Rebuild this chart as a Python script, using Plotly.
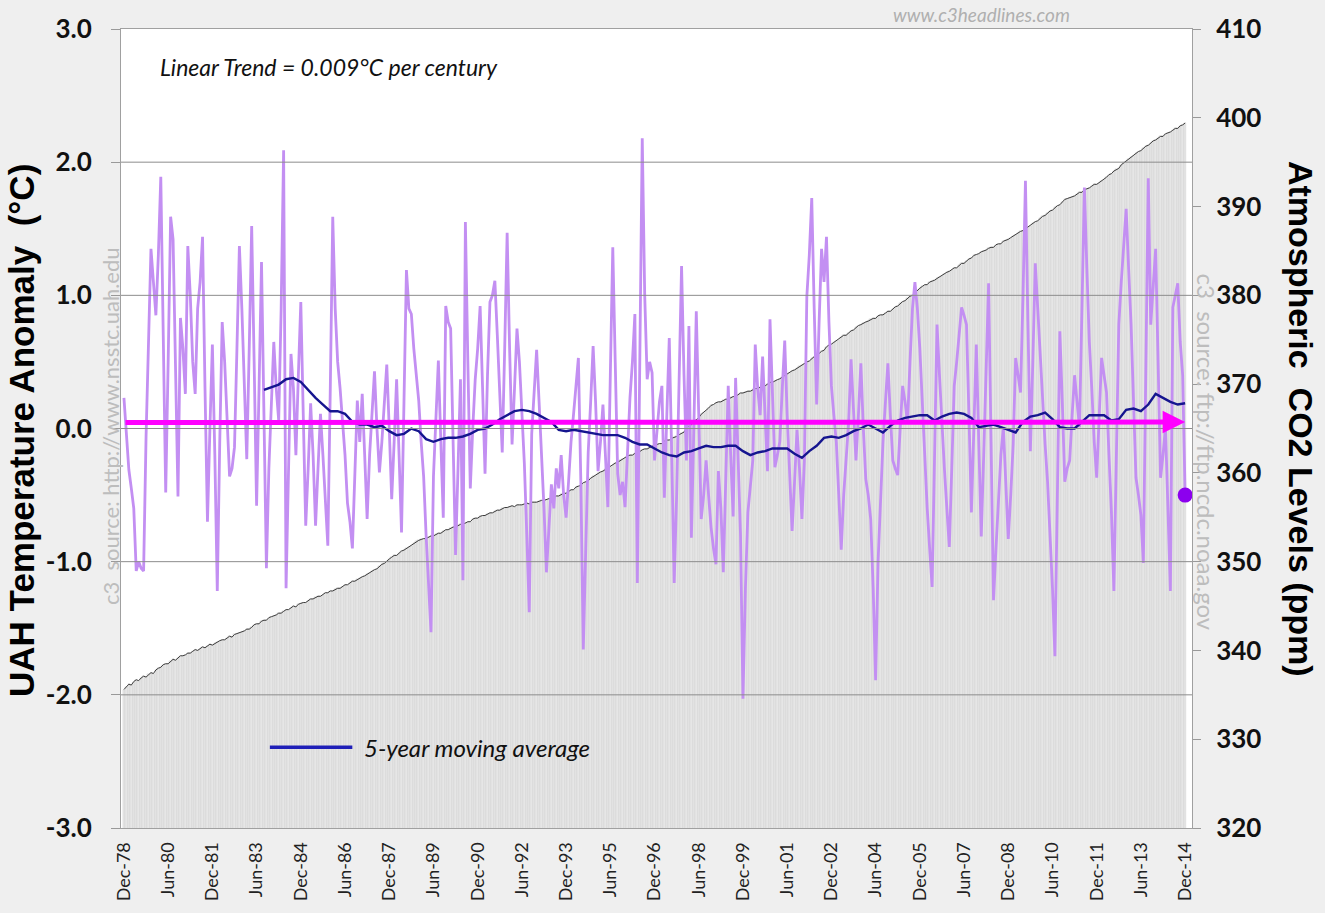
import pandas as pd
import plotly.graph_objects as go

# ---------------- data ----------------
month_labels = pd.date_range("1978-12-01", "2014-12-01", freq="MS").strftime("%b-%y").tolist()
month_idx = list(range(len(month_labels)))

# UAH temperature anomaly (deg C), monthly Dec-78 .. Dec-14
temp = [
    0.23, -0.05, -0.31, -0.45, -0.6, -1.07, -1.0, -1.05, -1.07, -0.06, 0.6, 1.35,
    1.1, 0.85, 1.3, 1.89, 0.7, -0.48, 0.5, 1.59, 1.42, 0.4, -0.51, 0.83,
    0.6, 0.26, 1.37, 1.0, 0.5, 0.26, 0.9, 1.1, 1.44, 0.3, -0.7, 0.0,
    0.63, -0.2, -1.22, -0.1, 0.8, 0.5, 0.1, -0.36, -0.3, -0.14, 0.6, 1.37,
    0.9, 0.3, -0.23, 0.6, 1.52, 0.5, -0.58, 0.3, 1.25, 0.1, -1.05, -0.3,
    0.2, 0.65, 0.3, 0.06, 0.9, 2.09, -1.2, -0.3, 0.56, 0.3, -0.2, 0.4,
    0.95, 0.1, -0.73, -0.3, 0.19, -0.2, -0.73, -0.3, 0.11, -0.2, -0.5, -0.88,
    0.3, 1.59, 0.9, 0.5, 0.3, 0.06, -0.2, -0.56, -0.7, -0.9, -0.3, 0.21,
    -0.1, 0.26, -0.2, -0.68, -0.2, 0.1, 0.43, 0.0, -0.33, -0.1, 0.2, 0.48,
    0.0, -0.53, -0.1, 0.37, -0.2, -0.78, 0.2, 1.19, 0.9, 0.86, 0.6, 0.4,
    0.21, -0.1, -0.36, -0.8, -1.2, -1.53, -0.36, 0.1, 0.51, -0.1, -0.67, 0.92,
    0.8, 0.75, -0.1, -0.95, -0.3, 0.37, -1.14, 1.55, 0.5, -0.45, 0.0, 0.37,
    0.6, 0.92, 0.3, -0.34, 0.4, 0.95, 1.0, 1.11, 0.7, 0.3, -0.18, 0.6,
    1.47, 0.6, -0.12, 0.3, 0.75, 0.5, 0.1, -0.26, -0.8, -1.38, -0.04, 0.3,
    0.59, 0.2, -0.18, -0.6, -1.08, -0.7, -0.42, -0.6, -0.3, -0.45, -0.2, -0.5,
    -0.67, -0.4, -0.1, 0.1, 0.3, 0.53, -0.4, -1.66, -0.9, -0.18, 0.2, 0.62,
    0.2, -0.32, -0.1, 0.18, -0.2, -0.59, 0.4, 1.36, 0.5, -0.34, -0.5, -0.4,
    -0.59, -0.2, 0.23, 0.5, 0.86, -1.16, 0.4, 2.18, 1.0, 0.37, 0.5, 0.42,
    -0.24, 0.0, 0.2, 0.32, -0.52, 0.1, 0.68, -0.2, -1.16, -0.5, 0.3, 1.22,
    0.4, -0.24, 0.77, -0.82, 0.0, 0.88, 0.1, -0.68, -0.5, -0.24, -0.5, -0.74,
    -0.9, -1.02, -0.32, -0.6, -1.08, -0.4, 0.32, -0.2, -0.66, 0.38, -0.3, -0.8,
    -2.03, -1.2, -0.63, -0.4, -0.24, 0.63, 0.3, 0.1, 0.54, 0.1, -0.32, 0.82,
    0.2, -0.29, -0.2, -0.1, 0.3, 0.66, 0.1, -0.38, -0.77, -0.4, -0.01, -0.3,
    -0.68, -0.24, 0.99, 1.3, 1.73, 0.9, 0.18, 0.8, 1.35, 1.1, 1.44, 0.8,
    0.32, 0.1, -0.1, -0.5, -0.91, -0.5, -0.2, 0.04, 0.52, 0.1, -0.24, 0.1,
    0.49, 0.0, -0.38, -0.5, -0.68, -1.2, -1.89, -1.0, -0.5, -0.1, 0.2, 0.49,
    0.1, -0.24, -0.3, -0.35, 0.0, 0.32, 0.2, 0.04, 0.5, 0.9, 1.1, 0.9,
    0.6, 0.2, -0.24, -0.6, -0.9, -1.19, -0.2, 0.78, 0.4, 0.01, -0.3, -0.6,
    -0.89, -0.3, 0.32, 0.5, 0.7, 0.91, 0.85, 0.78, 0.1, -0.63, 0.0, 0.63,
    -0.1, -0.81, -0.2, 0.5, 1.09, -0.1, -1.29, -0.9, -0.5, -0.2, 0.01, -0.4,
    -0.83, -0.5, -0.12, 0.53, 0.4, 0.27, 1.0, 1.86, 0.8, -0.17, 0.5, 1.24,
    0.9, 0.53, 0.2, -0.12, -0.4, -0.76, -1.2, -1.71, -0.5, 0.73, 0.2, -0.4,
    -0.3, -0.24, 0.1, 0.4, 0.2, 0.01, 0.9, 1.81, 1.2, 0.65, 0.3, -0.1,
    -0.37, 0.1, 0.53, 0.4, 0.27, -0.2, -0.63, -1.22, -0.2, 0.78, 1.1, 1.4,
    1.65, 1.2, 0.78, 0.2, -0.37, -0.5, -0.65, -1.01, 0.5, 1.88, 0.78, 1.1,
    1.35, 0.5, -0.37, -0.2, 0.01, -0.6, -1.22, 0.91, 1.0, 1.09, 0.65, 0.4,
    -0.5,
]

# Atmospheric CO2 (ppm), monthly Dec-78 .. Dec-14
co2 = [
    335.6,
    335.9, 336.2, 336.1, 336.5, 336.7, 336.6, 336.9, 337.1, 337.0, 337.3, 337.5, 337.4,
    337.8, 338.0, 338.1, 338.4, 338.5, 338.5, 338.8, 339.0, 338.9, 339.2, 339.4, 339.4,
    339.5, 339.7, 339.7, 339.9, 340.1, 340.0, 340.2, 340.4, 340.3, 340.5, 340.7, 340.6,
    340.8, 340.9, 341.1, 341.2, 341.2, 341.4, 341.6, 341.5, 341.8, 341.9, 342.0, 342.1,
    342.2, 342.4, 342.4, 342.6, 342.9, 343.0, 343.0, 343.3, 343.4, 343.4, 343.7, 343.8,
    343.9, 344.0, 344.2, 344.2, 344.4, 344.6, 344.6, 344.8, 345.0, 344.9, 345.2, 345.3,
    345.4, 345.4, 345.6, 345.8, 345.8, 346.0, 346.1, 346.1, 346.3, 346.5, 346.5, 346.7,
    346.7, 346.9, 347.0, 347.0, 347.2, 347.4, 347.4, 347.6, 347.8, 347.8, 348.0, 348.2,
    348.3, 348.4, 348.6, 348.7, 348.9, 349.1, 349.2, 349.5, 349.7, 349.8, 350.1, 350.3,
    350.5, 350.7, 350.7, 351.0, 351.2, 351.3, 351.5, 351.7, 351.8, 352.1, 352.3, 352.4,
    352.5, 352.6, 352.6, 352.8, 352.9, 352.9, 353.1, 353.2, 353.2, 353.4, 353.6, 353.6,
    353.8, 353.9, 353.9, 354.1, 354.2, 354.2, 354.4, 354.5, 354.5, 354.8, 354.9, 354.9,
    355.1, 355.2, 355.2, 355.4, 355.5, 355.5, 355.7, 355.8, 355.8, 356.0, 356.1, 356.1,
    356.2, 356.3, 356.2, 356.4, 356.4, 356.4, 356.5, 356.6, 356.5, 356.7, 356.7, 356.7,
    356.8, 356.9, 356.9, 357.0, 357.1, 357.1, 357.3, 357.4, 357.4, 357.6, 357.7, 357.7,
    357.9, 358.1, 358.1, 358.4, 358.5, 358.6, 358.9, 359.0, 359.1, 359.4, 359.6, 359.7,
    360.0, 360.1, 360.2, 360.4, 360.6, 360.7, 360.9, 361.1, 361.2, 361.4, 361.6, 361.7,
    361.9, 362.0, 362.0, 362.2, 362.3, 362.4, 362.6, 362.7, 362.7, 362.9, 363.0, 363.1,
    363.2, 363.3, 363.3, 363.6, 363.7, 363.7, 363.9, 364.0, 364.1, 364.3, 364.5, 364.6,
    365.0, 365.3, 365.4, 365.8, 366.0, 366.2, 366.6, 366.8, 367.0, 367.3, 367.6, 367.7,
    367.9, 368.0, 368.0, 368.2, 368.3, 368.3, 368.5, 368.6, 368.6, 368.8, 369.0, 369.0,
    369.1, 369.2, 369.2, 369.4, 369.5, 369.5, 369.7, 369.8, 369.8, 370.0, 370.2, 370.2,
    370.4, 370.5, 370.6, 370.8, 371.0, 371.1, 371.3, 371.5, 371.6, 371.8, 372.0, 372.1,
    372.3, 372.5, 372.6, 372.9, 373.1, 373.2, 373.5, 373.7, 373.8, 374.2, 374.4, 374.5,
    374.7, 374.9, 375.0, 375.3, 375.5, 375.5, 375.8, 376.0, 376.1, 376.4, 376.6, 376.7,
    376.9, 377.0, 377.1, 377.3, 377.4, 377.4, 377.7, 377.8, 377.8, 378.0, 378.2, 378.2,
    378.5, 378.7, 378.8, 379.1, 379.3, 379.4, 379.7, 379.9, 380.0, 380.3, 380.6, 380.8,
    381.0, 381.2, 381.2, 381.5, 381.6, 381.7, 381.9, 382.1, 382.2, 382.4, 382.6, 382.7,
    382.9, 383.1, 383.1, 383.4, 383.6, 383.6, 383.9, 384.1, 384.2, 384.5, 384.6, 384.7,
    384.9, 385.0, 385.1, 385.3, 385.4, 385.4, 385.7, 385.8, 385.8, 386.1, 386.2, 386.3,
    386.5, 386.7, 386.8, 387.0, 387.2, 387.3, 387.5, 387.7, 387.8, 388.1, 388.3, 388.4,
    388.7, 388.9, 389.0, 389.3, 389.5, 389.6, 389.9, 390.1, 390.2, 390.5, 390.8, 390.9,
    391.0, 391.1, 391.2, 391.4, 391.6, 391.6, 391.9, 392.0, 392.1, 392.3, 392.5, 392.5,
    392.7, 392.9, 393.0, 393.3, 393.6, 393.7, 394.0, 394.2, 394.3, 394.7, 394.9, 395.1,
    395.4, 395.6, 395.7, 396.0, 396.2, 396.3, 396.6, 396.8, 396.9, 397.2, 397.4, 397.5,
    397.7, 397.9, 397.9, 398.2, 398.3, 398.4, 398.6, 398.8, 398.8, 399.1, 399.2, 399.4,
]

# 5-year moving average (deg C), read every 3rd month starting Sep-83
ma_first_month = "Sep-83"
ma_every = 3
ma_values = [
    0.29, 0.31, 0.33, 0.37, 0.38, 0.35, 0.29, 0.23, 0.18, 0.13,
    0.13, 0.11, 0.05, 0.03, 0.03, 0.01, 0.02, -0.02, -0.05, -0.04,
    0.0, -0.02, -0.08, -0.1, -0.08, -0.07, -0.07, -0.06, -0.04, -0.01,
    0.0, 0.03, 0.07, 0.1, 0.13, 0.14, 0.13, 0.11, 0.08, 0.05,
    -0.01, -0.02, -0.01, -0.02, -0.03, -0.04, -0.05, -0.05, -0.05, -0.07,
    -0.1, -0.12, -0.12, -0.15, -0.18, -0.2, -0.21, -0.18, -0.17, -0.15,
    -0.13, -0.14, -0.14, -0.13, -0.13, -0.17, -0.2, -0.18, -0.17, -0.15,
    -0.15, -0.15, -0.19, -0.22, -0.17, -0.13, -0.07, -0.06, -0.07, -0.05,
    -0.02, 0.0, 0.03, 0.0, -0.03, 0.02, 0.06, 0.08, 0.09, 0.1,
    0.1, 0.06, 0.09, 0.11, 0.12, 0.11, 0.08, 0.01, 0.02, 0.03,
    0.01, -0.01, -0.03, 0.05, 0.09, 0.1, 0.12, 0.07, 0.01, 0.0,
    0.0, 0.05, 0.1, 0.1, 0.1, 0.06, 0.07, 0.14, 0.15, 0.13,
    0.18, 0.26, 0.23, 0.2, 0.18, 0.19,
]

trend_values = [0.045, 0.048]          # linear trend at first and last month
temp_ticks = [-3, -2, -1, 0, 1, 2, 3]
temp_tick_labels = ["-3.0", "-2.0", "-1.0", "0.0", "1.0", "2.0", "3.0"]
co2_ticks = [320, 330, 340, 350, 360, 370, 380, 390, 400, 410]
x_label_every = 18

# ---------------- derived ----------------
n = min(len(month_idx), len(temp), len(co2))
ma_start = month_labels.index(ma_first_month)
ma_x = month_idx[ma_start::ma_every][:len(ma_values)]
tick_x = month_idx[::x_label_every]
tick_text = month_labels[::x_label_every]

LABEL_FONT = "Lato, 'Open Sans', sans-serif"
TITLE_FONT = "'Liberation Sans', Arial, sans-serif"

fig = go.Figure()

fig.add_trace(go.Bar(
    x=month_idx[:len(co2)], y=co2, yaxis="y",
    marker=dict(color="#e6e6e6", line=dict(color="#c4c4c4", width=0.3)),
    hoverinfo="skip", showlegend=False,
))
fig.add_trace(go.Scatter(
    x=month_idx[:len(co2)], y=co2, yaxis="y", mode="lines",
    line=dict(color="#3c3c3c", width=1), showlegend=False,
))
fig.add_trace(go.Scatter(
    x=month_idx[:len(temp)], y=temp, yaxis="y2", mode="lines",
    line=dict(color="#c38ff2", width=2.8), showlegend=False,
))
fig.add_trace(go.Scatter(
    x=ma_x, y=ma_values, yaxis="y2", mode="lines",
    line=dict(color="#15158f", width=2.4), showlegend=False,
))
fig.add_trace(go.Scatter(
    x=[month_idx[len(temp) - 1]], y=[temp[-1]], yaxis="y2", mode="markers",
    marker=dict(color="#8c00ee", size=15), showlegend=False,
))

shapes = []
for v in temp_ticks[1:-1]:
    shapes.append(dict(type="line", xref="paper", x0=0, x1=1, yref="y2", y0=v, y1=v,
                       line=dict(color="#8c8c8c", width=1), layer="above"))
# legend key for moving average
shapes.append(dict(type="line", xref="paper", yref="paper", x0=0.139, x1=0.216, y0=0.101, y1=0.101,
                   line=dict(color="#1f1fb8", width=3.5)))

annotations = [
    # linear trend arrow
    dict(x=month_idx[n - 1], y=trend_values[1], xref="x", yref="y2",
         ax=month_idx[0], ay=trend_values[0], axref="x", ayref="y2",
         showarrow=True, arrowhead=2, arrowsize=0.9, arrowwidth=5, arrowcolor="#ff00ff", text=""),
    dict(text="<i>Linear Trend = 0.009°C per century</i>", xref="paper", yref="paper",
         x=0.0345, y=0.952, xanchor="left", yanchor="middle", showarrow=False,
         font=dict(family=LABEL_FONT, size=23, color="#111")),
    dict(text="<i>5-year moving average</i>", xref="paper", yref="paper",
         x=0.225, y=0.101, xanchor="left", yanchor="middle", showarrow=False,
         font=dict(family=LABEL_FONT, size=24, color="#111")),
    dict(text="<i>www.c3headlines.com</i>", xref="paper", yref="paper",
         x=0.803, y=1.018, xanchor="center", yanchor="middle", showarrow=False,
         font=dict(family=LABEL_FONT, size=19, color="#b0b0b0")),
    dict(text="c3&nbsp; source: http://www.nsstc.uah.edu", xref="paper", yref="paper",
         x=-0.0103, y=0.503, xanchor="center", yanchor="middle", textangle=-90, showarrow=False,
         font=dict(family=LABEL_FONT, size=22, color="#bdbdbd")),
    dict(text="c3&nbsp; source: ftp://ftp.ncdc.noaa.gov", xref="paper", yref="paper",
         x=1.014, y=0.47, xanchor="center", yanchor="middle", textangle=90, showarrow=False,
         font=dict(family=LABEL_FONT, size=24, color="#bdbdbd")),
    dict(text="<b>UAH Temperature Anomaly&nbsp; (°C)</b>", xref="paper", yref="paper",
         x=-0.0924, y=0.497, xanchor="center", yanchor="middle", textangle=-90, showarrow=False,
         font=dict(family=TITLE_FONT, size=35, color="#000")),
    dict(text="<b>Atmospheric&nbsp; CO2 Levels (ppm)</b>", xref="paper", yref="paper",
         x=1.1018, y=0.512, xanchor="center", yanchor="middle", textangle=90, showarrow=False,
         font=dict(family=TITLE_FONT, size=34, color="#000")),
]

fig.update_layout(
    width=1325, height=913, autosize=False,
    margin=dict(l=121, r=133, t=18, b=77, pad=0),
    paper_bgcolor="#efefef", plot_bgcolor="#ffffff",
    bargap=0,
    showlegend=False,
    xaxis=dict(
        range=[-1.2, 434.8], tickmode="array", tickvals=tick_x, ticktext=tick_text,
        tickangle=-90, tickfont=dict(family=LABEL_FONT, size=18, color="#222"),
        showline=True, linecolor="#a0a0a0", linewidth=1, mirror=True,
        showgrid=False, zeroline=False, ticks="", ticklabelstandoff=6,
    ),
    yaxis=dict(
        side="right", range=[320, 410], tickmode="array", tickvals=co2_ticks,
        ticks="outside", ticklen=8, tickcolor="#999999",
        tickfont=dict(family=LABEL_FONT, size=26, color="#111", weight="bold"),
        showline=True, linecolor="#a0a0a0", showgrid=False, zeroline=False,
        ticklabelstandoff=10,
    ),
    yaxis2=dict(
        overlaying="y", side="left", anchor="x", range=[-3, 3], tickmode="array",
        tickvals=temp_ticks, ticktext=temp_tick_labels,
        ticks="outside", ticklen=9, tickcolor="#999999",
        tickfont=dict(family=LABEL_FONT, size=26, color="#111", weight="bold"),
        showline=True, linecolor="#a0a0a0", showgrid=False, zeroline=False,
        ticklabelstandoff=14,
    ),
    shapes=shapes,
    annotations=annotations,
)

fig.write_html(
    "out.html",
    config={"displayModeBar": False},
    post_script="document.body.style.margin='0';document.body.style.overflow='hidden';",
)
